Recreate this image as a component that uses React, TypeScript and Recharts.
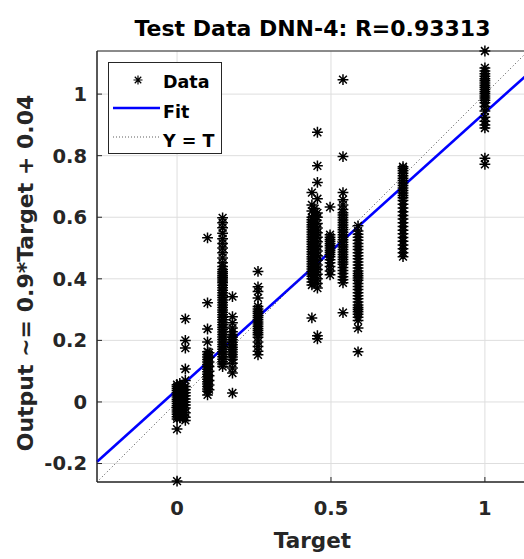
import React from 'react';
import {
  ScatterChart, Scatter, XAxis, YAxis, CartesianGrid, ReferenceLine, ReferenceArea, Legend,
} from 'recharts';

// ---- data ----
const targets = [0, 0.009, 0.018, 0.027, 0.099, 0.104, 0.148, 0.18, 0.263, 0.438, 0.447, 0.456, 0.497, 0.539, 0.588, 0.734, 1.0];

const outA0 = [-0.257, -0.088, -0.055, -0.048, -0.04, -0.033, -0.026, -0.019, -0.012, -0.005, 0.002, 0.009, 0.016, 0.023, 0.03, 0.037, 0.044, 0.05, 0.056];
const outA1 = [-0.052, -0.044, -0.036, -0.028, -0.02, -0.012, -0.004, 0.004, 0.012, 0.02, 0.028, 0.036, 0.044, 0.052, 0.06];
const outA2 = [-0.05, -0.042, -0.034, -0.026, -0.018, -0.01, -0.002, 0.006, 0.014, 0.022, 0.03, 0.038, 0.046, 0.054];
const outA3 = [-0.06, -0.05, -0.035, -0.02, -0.01, 0.0, 0.01, 0.02, 0.03, 0.04, 0.05, 0.07, 0.107, 0.175, 0.2, 0.27];
const outB1 = [0.023, 0.035, 0.042, 0.05, 0.058, 0.066, 0.074, 0.082, 0.09, 0.098, 0.106, 0.114, 0.122, 0.13, 0.138, 0.146, 0.154, 0.163, 0.195, 0.237, 0.322, 0.533];
const outB2 = [0.04, 0.055, 0.07, 0.085, 0.1, 0.115, 0.13, 0.145, 0.16];
const outC = [0.115, 0.123, 0.131, 0.139, 0.147, 0.155, 0.163, 0.171, 0.179, 0.187, 0.195, 0.203, 0.211, 0.219, 0.227, 0.235, 0.243, 0.251, 0.259, 0.267, 0.275, 0.283, 0.291, 0.299, 0.307, 0.315, 0.323, 0.331, 0.339, 0.347, 0.355, 0.363, 0.371, 0.379, 0.387, 0.393, 0.399, 0.405, 0.411, 0.417, 0.423, 0.43, 0.44, 0.452, 0.468, 0.485, 0.5, 0.515, 0.53, 0.548, 0.566, 0.582, 0.598];
const outD = [0.029, 0.094, 0.11, 0.126, 0.138, 0.146, 0.154, 0.162, 0.17, 0.178, 0.186, 0.194, 0.202, 0.21, 0.218, 0.228, 0.24, 0.257, 0.277, 0.342];
const outE = [0.153, 0.165, 0.18, 0.195, 0.21, 0.218, 0.225, 0.232, 0.239, 0.246, 0.253, 0.26, 0.267, 0.274, 0.281, 0.288, 0.295, 0.302, 0.31, 0.338, 0.359, 0.374, 0.424];
const outF1 = [0.273, 0.38, 0.39, 0.4, 0.408, 0.416, 0.424, 0.432, 0.44, 0.448, 0.456, 0.464, 0.472, 0.48, 0.488, 0.496, 0.504, 0.512, 0.52, 0.528, 0.536, 0.544, 0.552, 0.56, 0.568, 0.576, 0.584, 0.592, 0.6, 0.62, 0.64, 0.68];
const outF2 = [0.4, 0.412, 0.424, 0.436, 0.448, 0.46, 0.472, 0.484, 0.496, 0.508, 0.52, 0.532, 0.544, 0.556, 0.568, 0.58, 0.592, 0.604, 0.616, 0.628];
const outF3 = [0.205, 0.215, 0.37, 0.385, 0.4, 0.415, 0.43, 0.445, 0.46, 0.475, 0.49, 0.505, 0.52, 0.535, 0.55, 0.565, 0.58, 0.6, 0.614, 0.66, 0.713, 0.767, 0.876];
const outG = [0.413, 0.425, 0.44, 0.452, 0.462, 0.472, 0.479, 0.486, 0.493, 0.5, 0.507, 0.514, 0.521, 0.528, 0.535, 0.543, 0.633];
const outH = [0.29, 0.387, 0.397, 0.407, 0.417, 0.427, 0.437, 0.447, 0.455, 0.463, 0.471, 0.479, 0.487, 0.495, 0.503, 0.511, 0.519, 0.527, 0.535, 0.543, 0.551, 0.559, 0.567, 0.575, 0.583, 0.591, 0.599, 0.607, 0.615, 0.625, 0.64, 0.657, 0.68, 0.797, 1.047];
const outI = [0.163, 0.24, 0.265, 0.275, 0.285, 0.293, 0.3, 0.307, 0.315, 0.325, 0.335, 0.345, 0.355, 0.365, 0.375, 0.385, 0.395, 0.403, 0.41, 0.417, 0.425, 0.435, 0.445, 0.455, 0.465, 0.475, 0.485, 0.495, 0.505, 0.515, 0.525, 0.535, 0.545, 0.555, 0.572];
const outJ = [0.472, 0.485, 0.498, 0.51, 0.522, 0.534, 0.546, 0.558, 0.57, 0.582, 0.594, 0.606, 0.618, 0.63, 0.642, 0.654, 0.663, 0.671, 0.679, 0.687, 0.695, 0.703, 0.711, 0.719, 0.727, 0.735, 0.743, 0.751, 0.758, 0.764];
const outK = [0.772, 0.792, 0.89, 0.9, 0.912, 0.925, 0.945, 0.96, 0.972, 0.98, 0.987, 0.994, 1.001, 1.008, 1.015, 1.022, 1.029, 1.036, 1.043, 1.05, 1.058, 1.066, 1.075, 1.085, 1.14];

const outputs = [outA0, outA1, outA2, outA3, outB1, outB2, outC, outD, outE, outF1, outF2, outF3, outG, outH, outI, outJ, outK];

const xTicks = [0, 0.5, 1];
const yTicks = [-0.2, 0, 0.2, 0.4, 0.6, 0.8, 1];
const axisMin = -0.26;
const axisMax = 1.14;
const fitSlope = 0.9;
const fitIntercept = 0.04;

const titleText = 'Test Data DNN-4: R=0.93313';
const xLabelText = 'Target';
const yLabelText = 'Output ~= 0.9*Target + 0.04';
const legendLabels = ['Data', 'Fit', 'Y = T'];

const points = targets.flatMap((t, i) => outputs[i].map((o) => ({ target: t, output: o })));

// ---- styling ----
const FONT = 'DejaVu Sans';
const AXIS = '#262626';

function Star({ cx, cy, r = 5.4, w = 1.5 }: { cx: number; cy: number; r?: number; w?: number }) {
  const d = r * 0.72;
  const p = `M${cx - r},${cy}H${cx + r}M${cx},${cy - r}V${cy + r}M${cx - d},${cy - d}L${cx + d},${cy + d}M${cx - d},${cy + d}L${cx + d},${cy - d}`;
  return <path d={p} stroke="#000" strokeWidth={w} fill="none" />;
}

const renderStar = (props: any) => <Star cx={props.cx} cy={props.cy} />;

const LegendBox = () => (
  <svg width={114} height={92} style={{ display: 'block' }}>
    <rect x={0.5} y={0.5} width={113} height={91} fill="#fff" stroke={AXIS} strokeWidth={1} />
    <Star cx={30} cy={18} r={4.5} w={1.2} />
    <text x={55} y={26} fontFamily={FONT} fontWeight="bold" fontSize={17.5} fill="#000">{legendLabels[0]}</text>
    <line x1={5} x2={52} y1={46} y2={46} stroke="#0000ff" strokeWidth={2.5} />
    <text x={55} y={55.5} fontFamily={FONT} fontWeight="bold" fontSize={17.5} fill="#000">{legendLabels[1]}</text>
    <line x1={5} x2={52} y1={75} y2={75} stroke="#333" strokeWidth={0.8} strokeDasharray="1 2" />
    <text x={55} y={84.5} fontFamily={FONT} fontWeight="bold" fontSize={17.5} fill="#000">{legendLabels[2]}</text>
  </svg>
);

const renderTitle = () => (
  <text x={312.5} y={36} textAnchor="middle" fontFamily={FONT} fontWeight="bold" fontSize={22} fill="#000">
    {titleText}
  </text>
);
const renderXLabel = () => (
  <text x={312.5} y={548} textAnchor="middle" fontFamily={FONT} fontWeight="bold" fontSize={21.5} fill={AXIS}>
    {xLabelText}
  </text>
);
const renderYLabel = () => (
  <text transform="translate(33,273) rotate(-90)" x={0} y={0} textAnchor="middle" fontFamily={FONT} fontWeight="bold" fontSize={22} fill={AXIS}>
    {yLabelText}
  </text>
);

const tickStyle = { fontSize: 19.5, fontWeight: 'bold', fill: AXIS, fontFamily: FONT };

export default function App() {
  const fitSeg = [
    { x: axisMin, y: fitSlope * axisMin + fitIntercept },
    { x: axisMax, y: fitSlope * axisMax + fitIntercept },
  ];
  const idSeg = [
    { x: axisMin, y: axisMin },
    { x: axisMax, y: axisMax },
  ];
  return (
    <div style={{ position: 'absolute', left: 0, top: 0, width: 524, height: 559, overflow: 'hidden', background: '#fff' }}>
      <ScatterChart width={533} height={559} margin={{ top: 50, right: 5, bottom: 0, left: 0 }}>
        <CartesianGrid stroke="#dedede" strokeWidth={1} />
        <XAxis
          xAxisId="top"
          orientation="top"
          type="number"
          dataKey="target"
          domain={[axisMin, axisMax]}
          ticks={xTicks}
          height={1}
          axisLine={false}
          tickSize={-5}
          tickLine={{ stroke: AXIS }}
          tick={() => <g />}
          label={renderTitle}
        />
        <XAxis
          type="number"
          dataKey="target"
          domain={[axisMin, axisMax]}
          ticks={xTicks}
          height={77}
          axisLine={{ stroke: AXIS }}
          tickLine={{ stroke: AXIS }}
          tickSize={-5}
          tickMargin={24}
          tick={tickStyle}
          label={renderXLabel}
        />
        <YAxis
          type="number"
          dataKey="output"
          domain={[axisMin, axisMax]}
          ticks={yTicks}
          width={97}
          axisLine={{ stroke: AXIS }}
          tickLine={{ stroke: AXIS }}
          tickSize={-5}
          tickMargin={15}
          tick={tickStyle}
          label={renderYLabel}
        />
        <ReferenceArea x1={axisMin} x2={axisMax} y1={axisMin} y2={axisMax} fill="none" stroke={AXIS} strokeWidth={1} ifOverflow="visible" />
        <Scatter name="Data" data={points} shape={renderStar} isAnimationActive={false} />
        <ReferenceLine segment={fitSeg} stroke="#0000ff" strokeWidth={2.6} ifOverflow="visible" />
        <ReferenceLine segment={idSeg} stroke="#333" strokeWidth={0.9} strokeDasharray="1 2.5" ifOverflow="visible" />
        <Legend
          layout="horizontal"
          verticalAlign="middle"
          align="center"
          content={LegendBox}
          wrapperStyle={{ left: 108, top: 62, width: 114, height: 92 }}
        />
      </ScatterChart>
    </div>
  );
}
